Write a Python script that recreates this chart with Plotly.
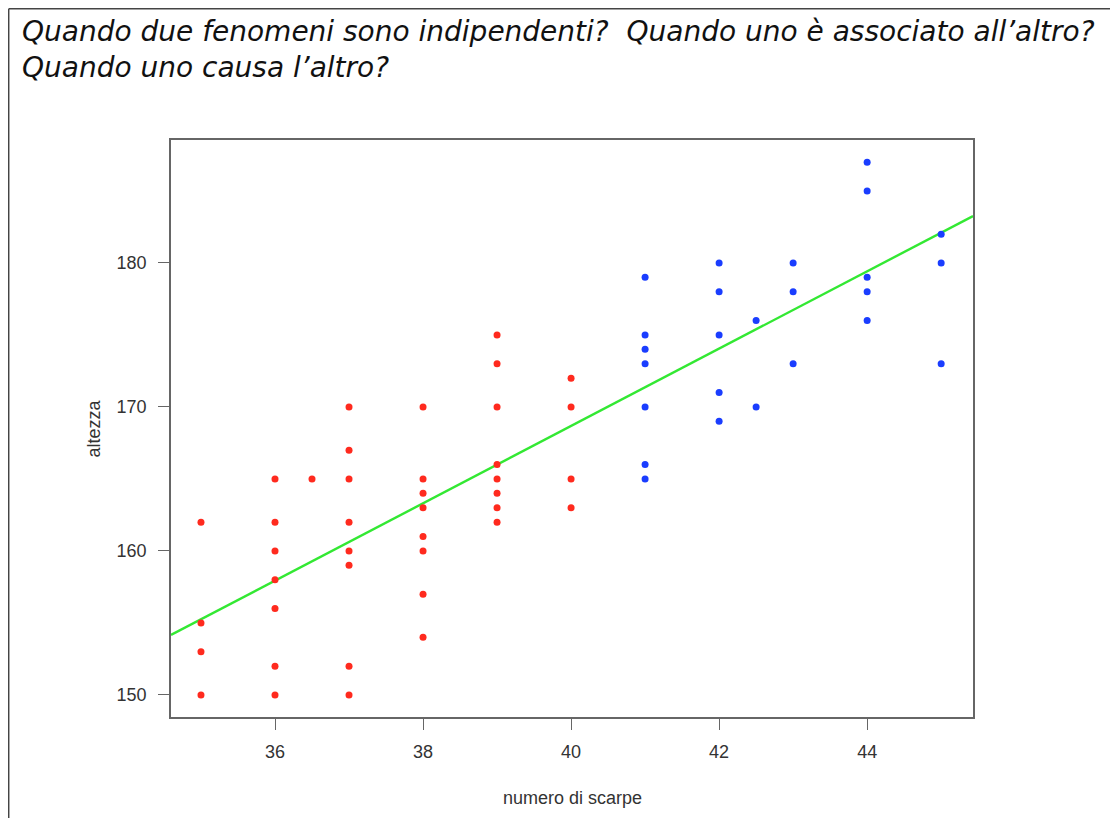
import plotly.graph_objects as go

# --- data ---
red_x = [35, 35, 35, 35,
         36, 36, 36, 36, 36, 36, 36,
         36.5,
         37, 37, 37, 37, 37, 37, 37, 37,
         38, 38, 38, 38, 38, 38, 38, 38,
         39, 39, 39, 39, 39, 39, 39, 39,
         40, 40, 40, 40]
red_y = [162, 155, 153, 150,
         165, 162, 160, 158, 156, 152, 150,
         165,
         170, 167, 165, 162, 160, 159, 152, 150,
         170, 165, 164, 163, 161, 160, 157, 154,
         175, 173, 170, 166, 165, 164, 163, 162,
         172, 170, 165, 163]
blue_x = [41, 41, 41, 41, 41, 41, 41,
          42, 42, 42, 42, 42,
          42.5, 42.5,
          43, 43, 43,
          44, 44, 44, 44, 44,
          45, 45, 45]
blue_y = [179, 175, 174, 173, 170, 166, 165,
          180, 178, 175, 171, 169,
          176, 170,
          180, 178, 173,
          187, 185, 179, 178, 176,
          182, 180, 173]
# regression line (intercept, slope)
line_intercept = 61.28
line_slope = 2.685

x_ticks = [36, 38, 40, 42, 44]
y_ticks = [150, 160, 170, 180]
title_line1 = "Quando due fenomeni sono indipendenti?\u00a0 Quando uno è associato all’altro?"
title_line2 = "Quando uno causa l’altro?"
x_label = "numero di scarpe"
y_label = "altezza"

X_RANGE = [34.595, 45.43]
Y_RANGE = [148.47, 188.54]

line_x = list(X_RANGE)
line_y = [line_intercept + line_slope * v for v in line_x]

fig = go.Figure()
fig.add_trace(go.Scatter(x=line_x, y=line_y, mode="lines",
                         line=dict(color="#33E833", width=2.4), hoverinfo="skip"))
fig.add_trace(go.Scatter(x=red_x, y=red_y, mode="markers",
                         marker=dict(color="#FF2A1E", size=7, line=dict(width=0))))
fig.add_trace(go.Scatter(x=blue_x, y=blue_y, mode="markers",
                         marker=dict(color="#1A3DFF", size=7, line=dict(width=0))))

OFF = 8  # page body margin
W, H = 1118 - OFF, 818 - OFF
L, R, T, B = 171 - OFF, 973 - OFF, 140 - OFF, 717 - OFF
pw, ph = R - L, B - T

def px(xp):
    return (xp - OFF - L) / pw

def py(yp):
    return (B - (yp - OFF)) / ph

tick_font = dict(family="Liberation Sans, Arial", size=18, color="#333333")
axis_common = dict(showgrid=False, zeroline=False, showline=True, mirror=True,
                   linecolor="#666666", linewidth=1.6, ticks="outside", ticklen=11,
                   tickcolor="#666666", tickwidth=1.4, tickfont=tick_font)

title_font = dict(family="DejaVu Sans", size=28, color="#111111", style="italic")

fig.update_layout(
    width=W, height=H, autosize=False,
    margin=dict(l=L, r=W - R, t=T, b=H - B, pad=0),
    paper_bgcolor="white", plot_bgcolor="white",
    showlegend=False,
    xaxis=dict(range=X_RANGE, tickvals=x_ticks, ticklabelstandoff=7, **axis_common),
    yaxis=dict(range=Y_RANGE, tickvals=y_ticks, ticklabelstandoff=8, **axis_common),
    shapes=[
        dict(type="line", xref="paper", yref="paper", x0=px(8.7), x1=px(1118),
             y0=py(8.7), y1=py(8.7), line=dict(color="#444444", width=1.5)),
        dict(type="line", xref="paper", yref="paper", x0=px(8.7), x1=px(8.7),
             y0=py(8.7), y1=py(818), line=dict(color="#444444", width=1.5)),
    ],
    annotations=[
        dict(text=title_line1, xref="paper", yref="paper", x=px(20), y=py(31),
             xanchor="left", yanchor="middle", showarrow=False, font=title_font),
        dict(text=title_line2, xref="paper", yref="paper", x=px(20), y=py(68),
             xanchor="left", yanchor="middle", showarrow=False, font=title_font),
        dict(text=x_label, xref="paper", yref="paper", x=0.5, y=py(798),
             xanchor="center", yanchor="middle", showarrow=False,
             font=dict(family="Liberation Sans, Arial", size=18, color="#333333")),
        dict(text=y_label, xref="paper", yref="paper", x=px(93), y=0.5,
             xanchor="center", yanchor="middle", showarrow=False, textangle=-90,
             font=dict(family="Liberation Sans, Arial", size=18, color="#333333")),
    ],
)

fig.write_html("out.html")
